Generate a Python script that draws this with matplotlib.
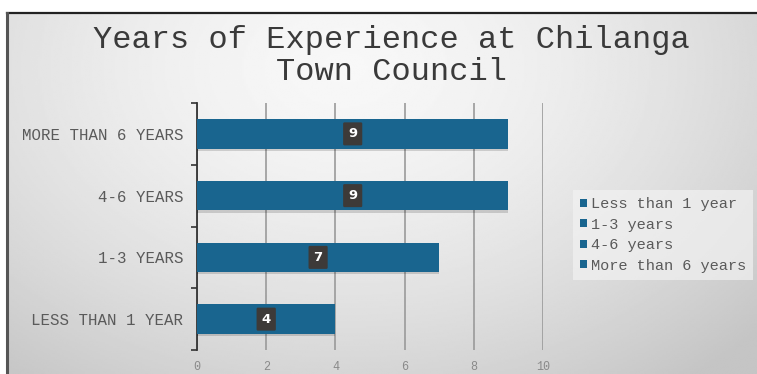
import numpy as np
import matplotlib
matplotlib.use("Agg")
import matplotlib.pyplot as plt
from matplotlib.patches import Patch
import matplotlib.patheffects as pe

categories = ["LESS THAN 1 YEAR", "1-3 YEARS", "4-6 YEARS", "MORE THAN 6 YEARS"]
values = [4, 7, 9, 9]
legend_labels = ["Less than 1 year", "1-3 years", "4-6 years", "More than 6 years"]
xticks = [0, 2, 4, 6, 8, 10]
title_lines = ["Years of Experience at Chilanga", "Town Council"]

BAR = "#19658f"
W, H = 757, 374
MONO = "Liberation Mono"

fig = plt.figure(figsize=(W / 100, H / 100), dpi=100)
fig.patch.set_facecolor("white")

# background gradient panel (inside frame)
bx0, by0 = 7 / W, 0
bw, bh = 1 - bx0, 1 - 13 / H
bg = fig.add_axes([bx0, by0, bw, bh])
yy, xx = np.mgrid[0:1:200j, 0:1:400j]
d = np.sqrt(((xx - 0.45) / 0.75) ** 2 + ((yy - 0.15) / 1.1) ** 2)
img = 0.97 - 0.2 * np.clip(d, 0, 1) ** 1.6
bg.imshow(img, cmap="gray", vmin=0, vmax=1, aspect="auto", extent=[0, 1, 1, 0])
bg.set_axis_off()
# frame lines
fig.add_artist(plt.Line2D([bx0, 1], [1 - 13 / H, 1 - 13 / H], color="#222222", lw=1.6))
fig.add_artist(plt.Line2D([bx0, bx0], [0, 1 - 13 / H], color="#555555", lw=2.2))

ax = fig.add_axes([197 / W, 24 / H, 346 / W, 247 / H])
ax.patch.set_alpha(0)
y = np.arange(len(categories))
bars = ax.barh(y, values, height=0.48, color=BAR, zorder=3)
for b in bars:
    b.set_path_effects([pe.SimplePatchShadow(offset=(0, -1.5), shadow_rgbFace="#000000", alpha=0.15), pe.Normal()])

ax.set_xlim(0, 10)
ax.set_ylim(-0.5, len(categories) - 0.5)
ax.set_xticks(xticks)
ax.set_xticklabels([str(t) for t in xticks], fontfamily=MONO, fontsize=8.5, color="#8a8a8a")
ax.set_yticks(y)
ax.set_yticklabels(categories, fontfamily=MONO, fontsize=11.3, color="#5a5a5a")
ax.tick_params(axis="x", length=0, pad=8)
ax.tick_params(axis="y", which="major", length=0, pad=10)
ax.set_yticks(np.arange(-0.5, len(categories)), minor=True)
ax.tick_params(axis="y", which="minor", length=4, width=1.2, color="#333333", direction="out")
for s in ["top", "right", "bottom"]:
    ax.spines[s].set_visible(False)
ax.spines["left"].set_color("#333333")
ax.spines["left"].set_linewidth(1.3)
ax.grid(axis="x", color="#9a9a9a", lw=1.2, zorder=1)
ax.set_axisbelow(True)

for yi, v in zip(y, values):
    ax.text(v / 2, yi, str(v), ha="center", va="center", fontsize=9.5, fontweight="bold",
            color="white", fontfamily="DejaVu Sans", zorder=5,
            bbox=dict(boxstyle="round,pad=0.38,rounding_size=0.1", fc="#3d3a38", ec="none"))

fig.text(391 / W, 1 - 48 / H, title_lines[0], ha="center", va="baseline",
         fontfamily=MONO, fontsize=23, color="#3a3a3a")
fig.text(391 / W, 1 - 80 / H, title_lines[1], ha="center", va="baseline",
         fontfamily=MONO, fontsize=23, color="#3a3a3a")

handles = [Patch(facecolor=BAR, edgecolor="none") for _ in legend_labels]
leg = fig.legend(handles, legend_labels, loc="center left", bbox_to_anchor=(573 / W, 1 - 235 / H),
                 prop={"family": MONO, "size": 11}, frameon=True, handlelength=0.45, handleheight=0.45,
                 handletextpad=0.25, labelspacing=0.42, borderpad=0.45, borderaxespad=0)
leg.get_frame().set_facecolor("#f2f2f2")
leg.get_frame().set_alpha(0.7)
leg.get_frame().set_edgecolor("none")
leg.get_frame().set_boxstyle("square", pad=0)
for t in leg.get_texts():
    t.set_color("#5a5a5a")

fig.savefig("out.png", dpi=100)
